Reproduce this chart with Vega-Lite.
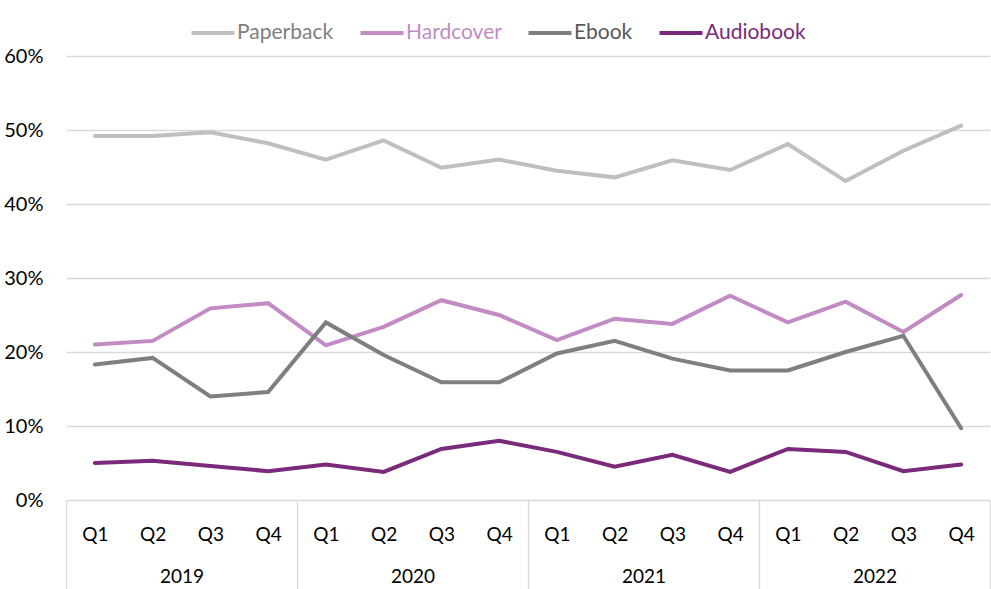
{
  "$schema": "https://vega.github.io/schema/vega-lite/v6.json",
  "autosize": "none",
  "width": 924,
  "height": 444,
  "padding": {"left": 66, "top": 56, "right": 1, "bottom": 89},
  "config": {
    "view": {"stroke": null},
    "font": "Lato",
    "axis": {"labelFont": "Lato", "labelFontSize": 19, "labelColor": "#000000", "title": null}
  },
  "data": {
    "values": [
      {"period": "2019 Q1", "year": "2019", "Paperback": 0.492, "Hardcover": 0.210, "Ebook": 0.183, "Audiobook": 0.050},
      {"period": "2019 Q2", "year": "2019", "Paperback": 0.492, "Hardcover": 0.215, "Ebook": 0.192, "Audiobook": 0.053},
      {"period": "2019 Q3", "year": "2019", "Paperback": 0.497, "Hardcover": 0.259, "Ebook": 0.140, "Audiobook": 0.046},
      {"period": "2019 Q4", "year": "2019", "Paperback": 0.482, "Hardcover": 0.266, "Ebook": 0.146, "Audiobook": 0.039},
      {"period": "2020 Q1", "year": "2020", "Paperback": 0.460, "Hardcover": 0.209, "Ebook": 0.240, "Audiobook": 0.048},
      {"period": "2020 Q2", "year": "2020", "Paperback": 0.486, "Hardcover": 0.234, "Ebook": 0.196, "Audiobook": 0.038},
      {"period": "2020 Q3", "year": "2020", "Paperback": 0.449, "Hardcover": 0.270, "Ebook": 0.159, "Audiobook": 0.069},
      {"period": "2020 Q4", "year": "2020", "Paperback": 0.460, "Hardcover": 0.250, "Ebook": 0.159, "Audiobook": 0.080},
      {"period": "2021 Q1", "year": "2021", "Paperback": 0.445, "Hardcover": 0.216, "Ebook": 0.198, "Audiobook": 0.065},
      {"period": "2021 Q2", "year": "2021", "Paperback": 0.436, "Hardcover": 0.245, "Ebook": 0.215, "Audiobook": 0.045},
      {"period": "2021 Q3", "year": "2021", "Paperback": 0.459, "Hardcover": 0.238, "Ebook": 0.191, "Audiobook": 0.061},
      {"period": "2021 Q4", "year": "2021", "Paperback": 0.446, "Hardcover": 0.276, "Ebook": 0.175, "Audiobook": 0.038},
      {"period": "2022 Q1", "year": "2022", "Paperback": 0.481, "Hardcover": 0.240, "Ebook": 0.175, "Audiobook": 0.069},
      {"period": "2022 Q2", "year": "2022", "Paperback": 0.431, "Hardcover": 0.268, "Ebook": 0.200, "Audiobook": 0.065},
      {"period": "2022 Q3", "year": "2022", "Paperback": 0.472, "Hardcover": 0.227, "Ebook": 0.222, "Audiobook": 0.039},
      {"period": "2022 Q4", "year": "2022", "Paperback": 0.506, "Hardcover": 0.277, "Ebook": 0.097, "Audiobook": 0.048}
    ]
  },
  "layer": [
    {
      "transform": [
        {"fold": ["Paperback", "Hardcover", "Ebook", "Audiobook"], "as": ["format", "share"]}
      ],
      "mark": {"type": "line", "strokeWidth": 4, "strokeCap": "round"},
      "encoding": {
        "x": {
          "field": "period",
          "type": "ordinal",
          "scale": {"type": "point", "padding": 0.5},
          "axis": {
            "orient": "bottom",
            "labelExpr": "split(datum.label, ' ')[1]",
            "labelAngle": 0,
            "ticks": false,
            "domain": false,
            "grid": false,
            "labelPadding": 25
          }
        },
        "y": {
          "field": "share",
          "type": "quantitative",
          "scale": {"domain": [0, 0.6], "nice": false},
          "axis": {
            "values": [0, 0.1, 0.2, 0.3, 0.4, 0.5, 0.6],
            "format": ".0%",
            "ticks": false,
            "domain": false,
            "labelPadding": 23,
            "labelFontSize": 20,
            "gridColor": "#d9d9d9",
            "gridWidth": 1.3
          }
        },
        "color": {
          "field": "format",
          "type": "nominal",
          "scale": {
            "domain": ["Paperback", "Hardcover", "Ebook", "Audiobook"],
            "range": ["#bfbfbf", "#c28bc4", "#7f7f7f", "#7a2a7a"]
          },
          "legend": {
            "title": null,
            "orient": "none",
            "direction": "horizontal",
            "legendX": 123,
            "legendY": -47,
            "padding": 0,
            "symbolType": "stroke",
            "symbolSize": 1850,
            "symbolStrokeWidth": 4,
            "labelFont": "Lato",
            "labelFontSize": 21,
            "labelOffset": 0,
            "columnPadding": 18,
            "encode": {
              "labels": {
                "update": {
                  "fill": {"signal": "datum.value == 'Paperback' ? '#808080' : datum.value == 'Hardcover' ? '#c28bc4' : datum.value == 'Ebook' ? '#595959' : '#7a2a7a'"}
                }
              }
            }
          }
        }
      }
    },
    {
      "mark": {"type": "rule", "opacity": 0},
      "encoding": {
        "x": {
          "field": "year",
          "type": "nominal",
          "scale": {"type": "band", "paddingInner": 0, "paddingOuter": 0},
          "axis": {
            "orient": "bottom",
            "labelAngle": 0,
            "tickBand": "extent",
            "tickSize": 89,
            "tickColor": "#d9d9d9",
            "tickWidth": 1.3,
            "domain": false,
            "grid": false,
            "labelPadding": -22
          }
        }
      }
    }
  ],
  "resolve": {"scale": {"x": "independent"}, "axis": {"x": "independent"}}
}
